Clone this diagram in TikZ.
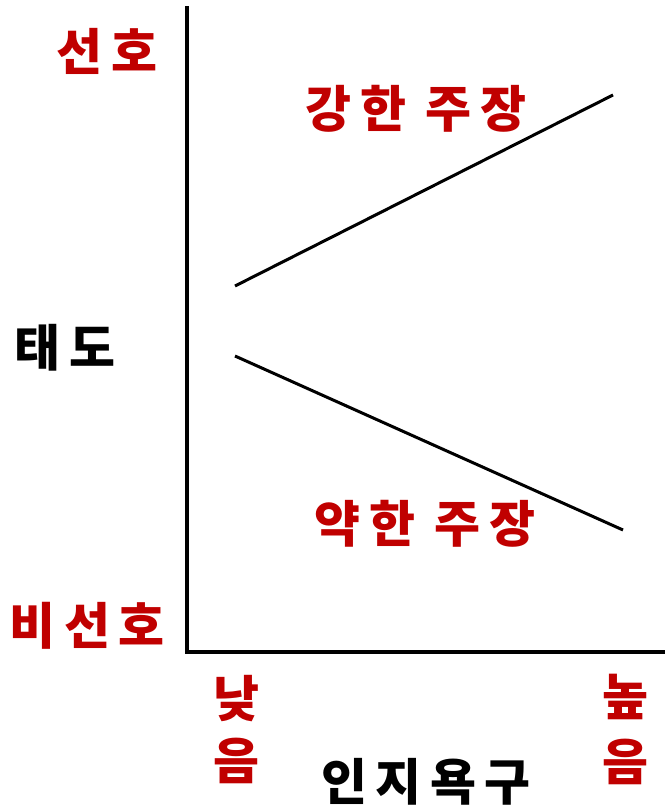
\documentclass[tikz,border=0pt]{standalone}
\usepackage{fontspec}
\setmainfont{Noto Sans CJK KR}[LetterSpace=17]
\definecolor{kred}{RGB}{192,0,0}
\begin{document}
\begin{tikzpicture}[x=1pt,y=-1pt,
  lbl/.style={inner sep=0pt,font=\fontsize{50}{54}\selectfont\bfseries},
  redlbl/.style={lbl,text=kred},
  blacklbl/.style={lbl,text=black},
  axis/.style={line width=4.5pt,line cap=rect},
  trend/.style={line width=3pt}]
\useasboundingbox (0,0) rectangle (664,810);
\coordinate (top) at (187,8);
\coordinate (origin) at (187,652);
\coordinate (right) at (666,652);
\draw[axis] (top) -- (origin) -- (right);
\coordinate (s1) at (235,286);
\coordinate (e1) at (613,95);
\coordinate (s2) at (235,356);
\coordinate (e2) at (623,530);
\draw[trend] (s1) -- (e1);
\draw[trend] (s2) -- (e2);
\node[redlbl] (pref) at (107,51) {선호};
\node[redlbl] (strong) at (416,109) {강한 주장};
\node[blacklbl] (att) at (65,348) {태도};
\node[redlbl] (weak) at (425,524) {약한 주장};
\node[redlbl] (nonpref) at (87,626) {비선호};
\node[redlbl] (low1) at (236,699) {낮};
\node[redlbl] (low2) at (236,761) {음};
\node[redlbl] (high1) at (625,697) {높};
\node[redlbl] (high2) at (625,762) {음};
\node[blacklbl] (need) at (426,782) {인지욕구};
\end{tikzpicture}
\end{document}
